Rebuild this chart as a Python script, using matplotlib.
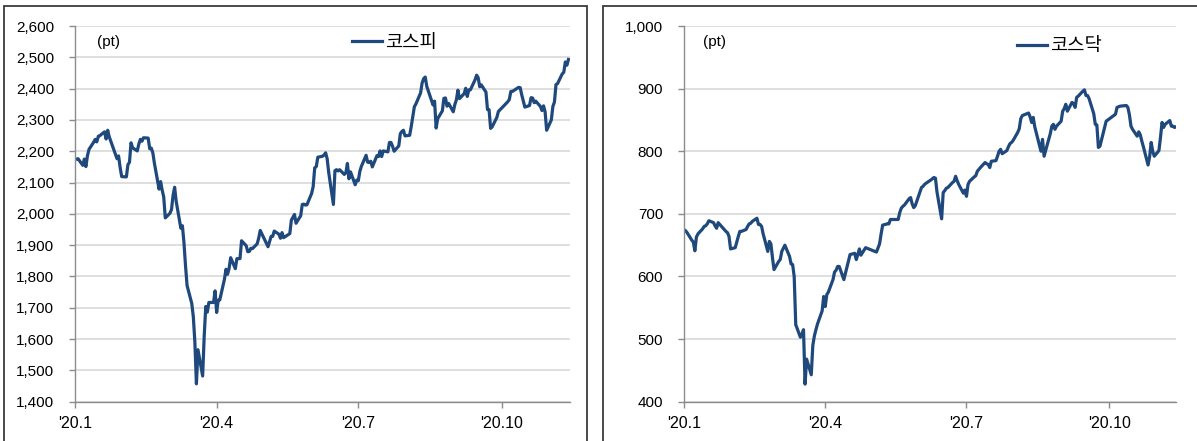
import pandas as pd
import matplotlib
matplotlib.use("Agg")
import matplotlib.pyplot as plt
import matplotlib.dates as mdates
from matplotlib.patches import Rectangle
from matplotlib.ticker import FixedLocator, FuncFormatter

plt.rcParams['font.family'] = ['Liberation Sans', 'Noto Sans CJK KR', 'DejaVu Sans']

# 휴장일 (2020, 한국거래소)
holidays = ['2020-01-24', '2020-01-27', '2020-04-15', '2020-04-30', '2020-05-01',
            '2020-05-05', '2020-08-17', '2020-09-30', '2020-10-01', '2020-10-02',
            '2020-10-09']

# 코스피 종가 (월별)
kospi_jan = [2175, 2176, 2155, 2175, 2151, 2186, 2206, 2229, 2238, 2230,
             2248, 2250, 2262, 2239, 2267, 2246, 2176, 2185, 2148, 2119]
kospi_feb = [2118, 2157, 2165, 2227, 2211, 2201, 2223, 2238, 2232, 2243,
             2242, 2208, 2210, 2195, 2162, 2079, 2103, 2076, 2054, 1987]
kospi_mar = [2002, 2014, 2059, 2085, 2040, 1954, 1962, 1908, 1834, 1771, 1714,
             1672, 1591, 1457, 1566, 1482, 1609, 1704, 1686, 1717, 1717, 1754]
kospi_apr = [1685, 1724, 1725, 1791, 1823, 1807, 1826, 1860, 1825, 1857,
             1857, 1914, 1898, 1879, 1880, 1890, 1889, 1904, 1922, 1947]
kospi_may = [1895, 1928, 1928, 1945, 1935, 1922, 1940, 1924, 1927, 1937,
             1980, 1989, 1998, 1970, 1994, 2030, 2031, 2028, 2029]
kospi_jun = [2065, 2087, 2147, 2151, 2181, 2184, 2188, 2195, 2176, 2132, 2030,
             2138, 2141, 2137, 2141, 2126, 2131, 2161, 2112, 2134, 2093, 2108]
kospi_jul = [2106, 2136, 2152, 2187, 2165, 2164, 2168, 2150, 2186, 2183, 2201, 2183,
             2201, 2198, 2228, 2228, 2216, 2200, 2217, 2256, 2263, 2267, 2249]
kospi_aug = [2251, 2279, 2311, 2342, 2351, 2386, 2418, 2432, 2437, 2407,
             2348, 2360, 2274, 2304, 2329, 2369, 2370, 2344, 2353, 2326]
kospi_sep = [2349, 2364, 2395, 2368, 2384, 2401, 2375, 2396, 2396, 2428, 2443,
             2435, 2406, 2412, 2389, 2333, 2333, 2273, 2278, 2308, 2327]
kospi_oct = [2358, 2365, 2391, 2391, 2404, 2403, 2380, 2361, 2341, 2346,
             2371, 2370, 2355, 2360, 2343, 2330, 2345, 2326, 2267]
kospi_nov = [2300, 2343, 2357, 2413, 2416, 2447, 2452, 2485, 2475, 2493]

# 코스닥 종가 (월별)
kosdaq_jan = [673, 670, 658, 655, 641, 663, 668, 676, 680, 681,
              684, 689, 686, 681, 677, 686, 672, 670, 664, 644]
kosdaq_feb = [646, 655, 664, 672, 672, 675, 680, 684, 685, 688,
              693, 683, 683, 680, 668, 640, 656, 652, 630, 611]
kosdaq_mar = [624, 627, 640, 645, 650, 632, 620, 619, 600, 523, 503,
              508, 515, 428, 468, 443, 490, 505, 515, 524, 545, 568]
kosdaq_apr = [552, 571, 575, 595, 607, 610, 616, 616, 595, 605,
              625, 635, 637, 627, 635, 644, 634, 646, 645, 644]
kosdaq_may = [639, 652, 668, 682, 684, 684, 691, 691, 691, 691,
              702, 709, 712, 714, 724, 726, 716, 710, 713]
kosdaq_jun = [735, 742, 744, 747, 749, 754, 756, 758, 757, 735, 692,
              734, 737, 741, 742, 750, 752, 760, 753, 747, 733, 738]
kosdaq_jul = [728, 747, 752, 759, 761, 768, 771, 774, 782, 780, 779, 774,
              784, 785, 792, 800, 803, 796, 801, 807, 812, 814, 817]
kosdaq_aug = [830, 836, 852, 857, 858, 861, 855, 846, 854, 839,
              800, 819, 792, 801, 828, 840, 843, 835, 840, 848]
kosdaq_sep = [864, 868, 875, 864, 878, 876, 870, 886, 888, 896, 898,
              889, 889, 884, 860, 843, 842, 806, 808, 838, 848]
kosdaq_oct = [859, 870, 871, 872, 873, 870, 858, 840, 835, 824,
              831, 826, 816, 807, 778, 791, 814, 800, 792]
kosdaq_nov = [801, 822, 846, 838, 843, 849, 840, 840, 838, 839]

tick_dates = ['2020-01-01', '2020-04-01', '2020-07-01', '2020-10-01']
tick_labels = ["'20.1", "'20.4", "'20.7", "'20.10"]

kospi = (kospi_jan + kospi_feb + kospi_mar + kospi_apr + kospi_may + kospi_jun
         + kospi_jul + kospi_aug + kospi_sep + kospi_oct + kospi_nov)
kosdaq = (kosdaq_jan + kosdaq_feb + kosdaq_mar + kosdaq_apr + kosdaq_may + kosdaq_jun
          + kosdaq_jul + kosdaq_aug + kosdaq_sep + kosdaq_oct + kosdaq_nov)
dates = pd.bdate_range('2020-01-02', '2020-11-13', freq='C', holidays=holidays)
assert len(dates) == len(kospi) == len(kosdaq), (len(dates), len(kospi), len(kosdaq))

LINE = '#1F497D'
GRID = '#D9D9D9'
SPINE = '#8C8C8C'
W, H = 1197, 441

fig = plt.figure(figsize=(W / 100, H / 100), dpi=100)

# 패널 테두리
for x0, x1 in [(4, 587), (603, 1205)]:
    fig.add_artist(Rectangle((x0 / W, -0.1), (x1 - x0) / W, 1.1 - 6 / H,
                             transform=fig.transFigure, fill=False,
                             ec='#3A3A3A', lw=1.3, clip_on=False))


def draw_panel(rect, values, ylim, name, xend, pt_x, leg_xy):
    ax = fig.add_axes(rect)
    ax.plot(dates, values, color=LINE, lw=2.3, label=name, solid_joinstyle='round')
    ax.set_xlim(pd.Timestamp('2020-01-01'), pd.Timestamp(xend))
    ax.set_ylim(*ylim)
    ax.set_yticks(range(ylim[0], ylim[1] + 1, 100))
    ax.yaxis.set_major_formatter(FuncFormatter(lambda v, p: f'{int(v):,}'))
    ax.xaxis.set_major_locator(FixedLocator(mdates.date2num(pd.to_datetime(tick_dates))))
    ax.set_xticklabels(tick_labels)
    ax.grid(axis='y', color=GRID, lw=1.2)
    ax.set_axisbelow(True)
    for s in ['top', 'right']:
        ax.spines[s].set_visible(False)
    for s in ['left', 'bottom']:
        ax.spines[s].set_color(SPINE)
        ax.spines[s].set_linewidth(1.0)
    ax.tick_params(axis='y', colors=SPINE, length=4, width=1.0, pad=11,
                   labelcolor='black', labelsize=11)
    ax.tick_params(axis='x', colors=SPINE, length=4, width=1.0, pad=6,
                   labelcolor='black', labelsize=11.5)
    ax.text(pt_x, 0.957, '(pt)', transform=ax.transAxes, fontsize=11,
            va='center', ha='left')
    ax.legend(loc='center left', bbox_to_anchor=leg_xy, frameon=False,
              prop={'family': ['Noto Sans CJK KR'], 'size': 13.5},
              handlelength=1.6, handletextpad=0.15, borderaxespad=0, borderpad=0)
    return ax


draw_panel([75 / W, 1 - 401.7 / H, 495 / W, 375.7 / H], kospi,
           (1400, 2600), '코스피', '2020-11-14', 0.044, (0.5596, 0.957))
draw_panel([684 / W, 1 - 401.7 / H, 492 / W, 375.7 / H], kosdaq,
           (400, 1000), '코스닥', '2020-11-13', 0.039, (0.677, 0.947))

fig.savefig('out.png', dpi=100)
